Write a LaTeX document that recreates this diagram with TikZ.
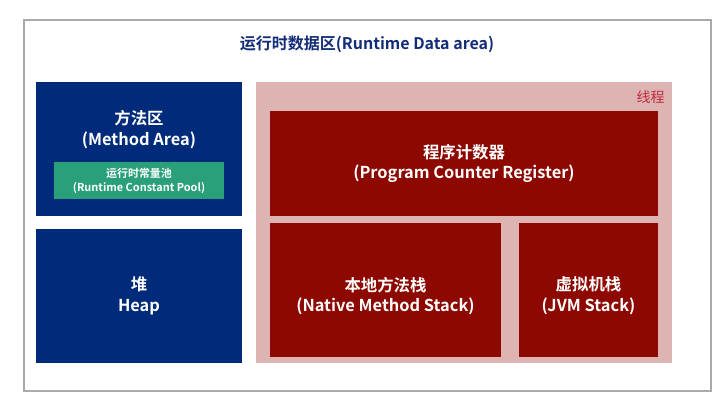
\documentclass[tikz,border=0pt]{standalone}
\usepackage{fontspec}
\setmainfont{Noto Sans CJK SC}[BoldFont={Noto Sans CJK SC Bold}]
\definecolor{navy}{RGB}{0,42,122}
\definecolor{deepred}{RGB}{140,8,0}
\definecolor{threadpink}{RGB}{222,180,178}
\definecolor{poolgreen}{RGB}{42,160,122}
\definecolor{titleblue}{RGB}{18,44,120}
\definecolor{threadred}{RGB}{190,40,60}
\begin{document}
\begin{tikzpicture}[x=0.75pt,y=-0.75pt,
  region/.style={draw=none,inner sep=0pt},
  boxtext/.style={text=white,font=\bfseries\fontsize{12.3}{15.6}\selectfont,align=center,inner sep=0pt},
  pooltext/.style={text=white,font=\bfseries\fontsize{8.2}{10.5}\selectfont,align=center,inner sep=0pt}]
  \useasboundingbox (0,0) rectangle (727,412);
  % outer frame
  \draw[draw={rgb,255:red,170;green,170;blue,170},line width=0.9pt] (24,20) rectangle (711,391);
  \node[text=titleblue,font=\bfseries\fontsize{12}{14}\selectfont] (title) at (367,44) {运行时数据区(Runtime Data area)};
  % shared areas
  \node[region,fill=navy,minimum width=206*0.75pt,minimum height=134*0.75pt] (method) at (139,149) {};
  \node[boxtext] (methodlbl) at (139,129.5) {方法区\\(Method Area)};
  \node[region,fill=poolgreen,minimum width=170*0.75pt,minimum height=37*0.75pt] (pool) at (139,180.5) {};
  \node[pooltext] (poollbl) at (139,180.5) {运行时常量池\\(Runtime Constant Pool)};
  \node[region,fill=navy,minimum width=206*0.75pt,minimum height=134*0.75pt] (heap) at (139,296) {};
  \node[boxtext] (heaplbl) at (139,296) {堆\\Heap};
  % per-thread areas
  \node[region,fill=threadpink,minimum width=416*0.75pt,minimum height=281*0.75pt] (thread) at (464,222.5) {};
  \node[text=threadred,font=\fontsize{10.5}{12}\selectfont,anchor=east,inner sep=0pt] (threadlbl) at (665,97) {线程};
  \node[region,fill=deepred,minimum width=388*0.75pt,minimum height=105*0.75pt] (pc) at (464,163.5) {};
  \node[boxtext] (pclbl) at (464,163.5) {程序计数器\\(Program Counter Register)};
  \node[region,fill=deepred,minimum width=231*0.75pt,minimum height=134*0.75pt] (native) at (385.5,290) {};
  \node[boxtext] (nativelbl) at (385.5,296) {本地方法栈\\(Native Method Stack)};
  \node[region,fill=deepred,minimum width=139*0.75pt,minimum height=134*0.75pt] (jvm) at (588.5,290) {};
  \node[boxtext] (jvmlbl) at (588.5,296) {虚拟机栈\\(JVM Stack)};
\end{tikzpicture}
\end{document}
